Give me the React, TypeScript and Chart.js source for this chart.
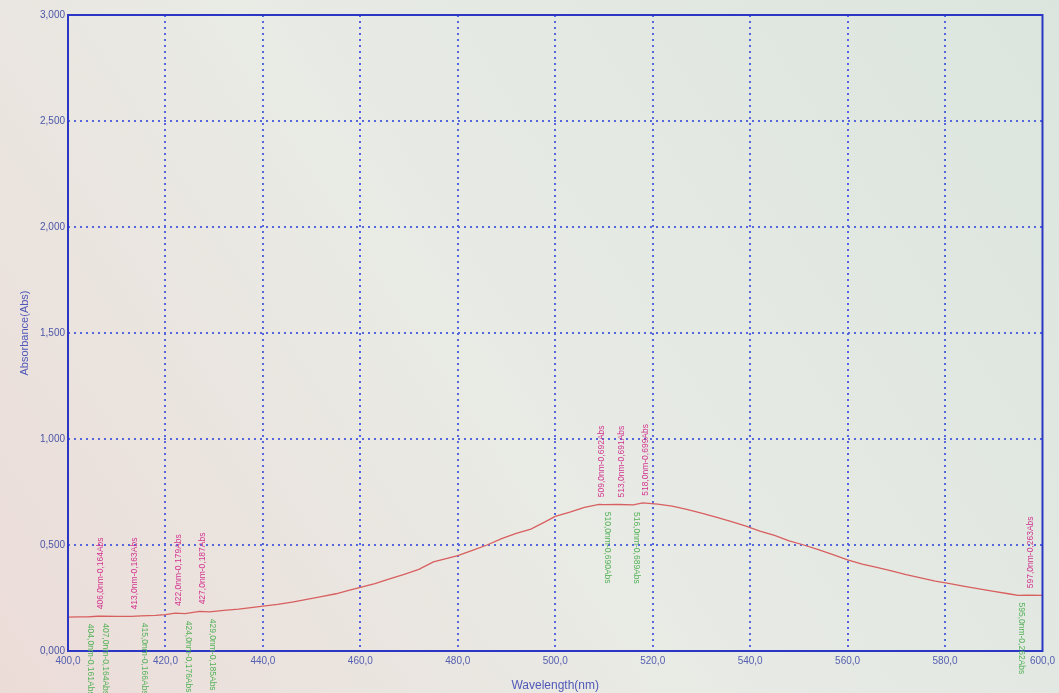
import React, { useEffect, useRef } from "react";
import { Chart, registerables } from "chart.js";

Chart.register(...registerables);

const wavelengths = [
  400, 402, 404, 406, 407, 410, 413, 415, 418, 420, 422, 424, 427, 429, 432, 435, 438, 440,
  443, 446, 449, 452, 455, 458, 460, 463, 466, 469, 472, 475, 477, 480, 483, 486, 489, 492,
  495, 498, 500, 503, 506, 509, 510, 513, 516, 518, 521, 524, 527, 530, 533, 536,
  539, 542, 545, 548, 551, 554, 557, 560, 563, 566, 569, 572, 575, 578, 581, 584, 587, 590,
  593, 595, 597, 600,
];
const absorbance = [
  0.16, 0.161, 0.161, 0.164, 0.164, 0.163, 0.163, 0.166, 0.168, 0.172, 0.179, 0.176, 0.187,
  0.185, 0.192, 0.198, 0.206, 0.212, 0.22, 0.231, 0.243, 0.256, 0.27, 0.288, 0.3, 0.318, 0.34,
  0.362, 0.385, 0.42, 0.432, 0.45, 0.475, 0.5, 0.53, 0.555, 0.575, 0.61, 0.635, 0.655, 0.678,
  0.692, 0.69, 0.691, 0.689, 0.699, 0.693, 0.683, 0.668, 0.65, 0.632, 0.612,
  0.59, 0.566, 0.545, 0.52, 0.5, 0.478, 0.455, 0.43, 0.41, 0.395, 0.378, 0.36, 0.345, 0.33,
  0.318, 0.305, 0.293, 0.281, 0.27, 0.262, 0.263, 0.262,
];

// Peak labels (magenta, above curve)
const peakNm = [406, 413, 422, 427, 509, 513, 518, 597];
const peakAbs = [0.164, 0.163, 0.179, 0.187, 0.692, 0.691, 0.699, 0.263];
// Valley labels (green, below curve)
const valleyNm = [404, 407, 415, 424, 429, 510, 516, 595];
const valleyAbs = [0.161, 0.164, 0.166, 0.176, 0.185, 0.69, 0.689, 0.262];

const xTicks = [420, 440, 460, 480, 500, 520, 540, 560, 580];
const yTicks = [0.5, 1.0, 1.5, 2.0, 2.5];

const fmtNm = (v: number) => v.toFixed(1).replace(".", ",");
const fmtAbs = (v: number) => v.toFixed(3).replace(".", ",");

const bgPlugin = {
  id: "bgPlugin",
  beforeDraw(chart: any) {
    const { ctx, width, height } = chart;
    ctx.save();
    const g = ctx.createLinearGradient(0, height, width, 0);
    g.addColorStop(0, "#ecdcd8");
    g.addColorStop(0.45, "#e9ebe5");
    g.addColorStop(1, "#dbe5de");
    ctx.fillStyle = g;
    ctx.fillRect(0, 0, width, height);
    ctx.restore();
  },
  beforeDatasetsDraw(chart: any) {
    const { ctx, chartArea: a, scales } = chart;
    ctx.save();
    ctx.strokeStyle = "#5666dc";
    ctx.lineWidth = 2;
    ctx.setLineDash([2, 4]);
    for (const t of xTicks) {
      const x = Math.round(scales.x.getPixelForValue(t));
      ctx.beginPath();
      ctx.moveTo(x, a.top);
      ctx.lineTo(x, a.bottom);
      ctx.stroke();
    }
    for (const t of yTicks) {
      const y = Math.round(scales.y.getPixelForValue(t));
      ctx.beginPath();
      ctx.moveTo(a.left, y);
      ctx.lineTo(a.right, y);
      ctx.stroke();
    }
    ctx.restore();
  },
  afterDraw(chart: any) {
    const { ctx, chartArea: a, scales } = chart;
    ctx.save();
    ctx.strokeStyle = "#2b36c4";
    ctx.lineWidth = 2;
    ctx.strokeRect(a.left, a.top, a.right - a.left, a.bottom - a.top);

    ctx.font = "8.5px 'Liberation Sans', sans-serif";
    ctx.textBaseline = "middle";
    ctx.textAlign = "left";
    const xs = scales.x;
    const ys = scales.y;
    for (let i = 0; i < peakNm.length; i++) {
      const px = xs.getPixelForValue(peakNm[i]) + 3;
      const py = ys.getPixelForValue(peakAbs[i]) - 7;
      ctx.save();
      ctx.translate(px, py);
      ctx.rotate(-Math.PI / 2);
      ctx.fillStyle = "#d2358f";
      ctx.fillText(`${fmtNm(peakNm[i])}nm-${fmtAbs(peakAbs[i])}Abs`, 0, 0);
      ctx.restore();
    }
    for (let i = 0; i < valleyNm.length; i++) {
      const px = xs.getPixelForValue(valleyNm[i]) + 3;
      const py = ys.getPixelForValue(valleyAbs[i]) + 7;
      ctx.save();
      ctx.translate(px, py);
      ctx.rotate(Math.PI / 2);
      ctx.fillStyle = "#56b25a";
      ctx.fillText(`${fmtNm(valleyNm[i])}nm-${fmtAbs(valleyAbs[i])}Abs`, 0, 0);
      ctx.restore();
    }
    ctx.restore();
  },
};

export default function App() {
  const ref = useRef<HTMLCanvasElement | null>(null);
  useEffect(() => {
    document.body.style.margin = "0";
    const canvas = ref.current;
    if (!canvas) return;
    const points = wavelengths.map((w, i) => ({ x: w, y: absorbance[i] }));
    const chart = new Chart(canvas, {
      type: "line",
      data: {
        datasets: [
          {
            data: points,
            borderColor: "#d85f5f",
            borderWidth: 1.3,
            pointRadius: 0,
            tension: 0,
            fill: false,
          },
        ],
      },
      options: {
        animation: false,
        responsive: false,
        maintainAspectRatio: false,
        layout: { padding: { left: 0, right: 14, top: 15, bottom: 0 } },
        plugins: { legend: { display: false }, tooltip: { enabled: false } },
        scales: {
          x: {
            type: "linear",
            min: 400,
            max: 600,
            afterFit: (s: any) => {
              s.height = 42;
            },
            ticks: {
              stepSize: 20,
              color: "#5560b0",
              padding: 4,
              maxRotation: 0,
              font: { family: "'Liberation Sans', sans-serif", size: 10 },
              callback: (v: any) => fmtNm(Number(v)),
            },
            grid: { display: false, drawTicks: false },
            border: { display: false },
            title: {
              display: true,
              text: "Wavelength(nm)",
              color: "#5058b8",
              padding: { top: 2, bottom: 0 },
              font: { family: "'Liberation Sans', sans-serif", size: 12 },
            },
          },
          y: {
            type: "linear",
            min: 0,
            max: 3,
            afterFit: (s: any) => {
              s.width = 68;
            },
            ticks: {
              stepSize: 0.5,
              color: "#4a55a8",
              padding: 3,
              font: { family: "'Liberation Sans', sans-serif", size: 10 },
              callback: (v: any) => fmtAbs(Number(v)),
            },
            grid: { display: false, drawTicks: false },
            border: { display: false },
            title: {
              display: true,
              text: "Absorbance(Abs)",
              color: "#5058b8",
              padding: { top: 18, bottom: 0 },
              font: { family: "'Liberation Sans', sans-serif", size: 11 },
            },
          },
        },
      },
      plugins: [bgPlugin],
    });
    return () => chart.destroy();
  }, []);
  return (
    <div style={{ position: "absolute", left: 0, top: 0, width: 1059, height: 693 }}>
      <canvas ref={ref} width={1059} height={693} style={{ width: 1059, height: 693 }} />
    </div>
  );
}
